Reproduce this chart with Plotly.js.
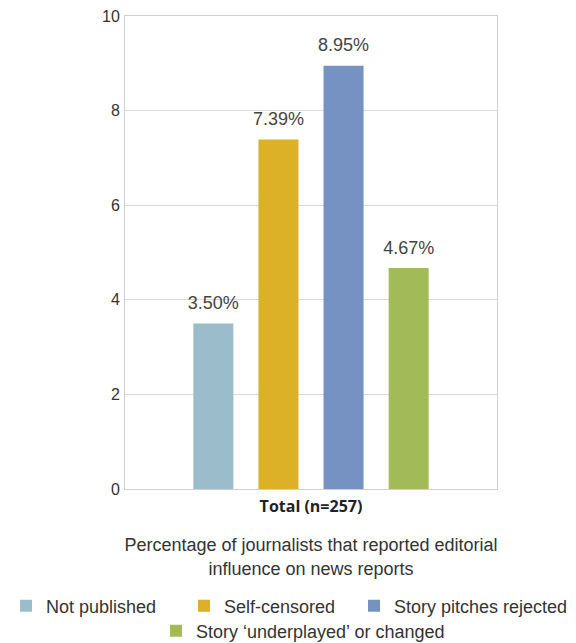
<!DOCTYPE html>
<html>
<head>
<meta charset="utf-8">
<script src="https://cdn.plot.ly/plotly-3.0.1.min.js"></script>
<style>html,body{margin:0;padding:0;background:#fff;}#chart{width:576px;height:643px;}</style>
</head>
<body>
<div id="chart"></div>
<script>
const categories = ["Total (n=257)"];
const seriesNames = ["Not published", "Self-censored", "Story pitches rejected", "Story \u2018underplayed\u2019 or changed"];
const notPublished = [3.50];
const selfCensored = [7.39];
const pitchesRejected = [8.95];
const underplayed = [4.67];
const yTicks = [0, 2, 4, 6, 8, 10];
const colors = ["#9bbccb", "#dcb128", "#7692c2", "#a3ba58"];

const FONT = '"Liberation Sans", Arial, sans-serif';
const values = [notPublished, selfCensored, pitchesRejected, underplayed];
const legendIds = ['legend', 'legend2', 'legend3', 'legend4'];
const xLabels = categories.map(c => '<b>' + c + '</b>');

const bars = values.map((v, i) => ({
  type: 'bar',
  name: seriesNames[i],
  legend: legendIds[i],
  x: xLabels,
  y: v,
  offsetgroup: String(i),
  marker: {color: colors[i]},
  hoverinfo: 'none'
}));
const labels = values.map((v, i) => ({
  type: 'scatter',
  mode: 'markers+text',
  showlegend: false,
  x: xLabels,
  y: v,
  offsetgroup: String(i),
  marker: {size: 14, opacity: 0, color: colors[i]},
  text: v.map(d => d.toFixed(2) + '%'),
  textposition: 'top center',
  textfont: {family: FONT, size: 18, color: '#444'},
  cliponaxis: false,
  hoverinfo: 'none'
}));

function legendAt(textLeft, rowCenter) {
  return {
    xref: 'container', yref: 'container',
    x: (textLeft - 41) / 576, xanchor: 'left',
    y: 1 - rowCenter / 643, yanchor: 'middle',
    bgcolor: 'rgba(0,0,0,0)',
    font: {family: FONT, size: 18, color: '#333'}
  };
}

const layout = {
  width: 576, height: 643,
  margin: {l: 125, r: 79, t: 16, b: 154, autoexpand: false},
  paper_bgcolor: '#fff', plot_bgcolor: '#fff',
  barmode: 'group', bargap: 0.30, bargroupgap: 0.385,
  scattermode: 'group', scattergap: 0.30,
  font: {family: FONT, color: '#333'},
  showlegend: true,
  legend: legendAt(47, 606),
  legend2: legendAt(225, 606),
  legend3: legendAt(395, 606),
  legend4: legendAt(197, 631),
  xaxis: {
    showline: true, linecolor: '#d0d0d0', linewidth: 1, mirror: true,
    ticks: '', ticklabelstandoff: 3,
    tickfont: {family: 'Open Sans, sans-serif', size: 16, color: '#222'},
    title: {text: 'Percentage of journalists that reported editorial<br>influence on news reports',
      font: {family: FONT, size: 18, color: '#333'}, standoff: 22}
  },
  yaxis: {
    range: [0, 10], tickvals: yTicks, ticktext: yTicks.map(String),
    showgrid: true, gridcolor: '#d9d9d9', zeroline: false,
    showline: true, linecolor: '#d0d0d0', linewidth: 1, mirror: true,
    ticks: '', ticklabelstandoff: 1,
    tickfont: {family: FONT, size: 16, color: '#333'}
  }
};

Plotly.newPlot('chart', bars.concat(labels), layout, {displayModeBar: false, staticPlot: true});
</script>
</body>
</html>
